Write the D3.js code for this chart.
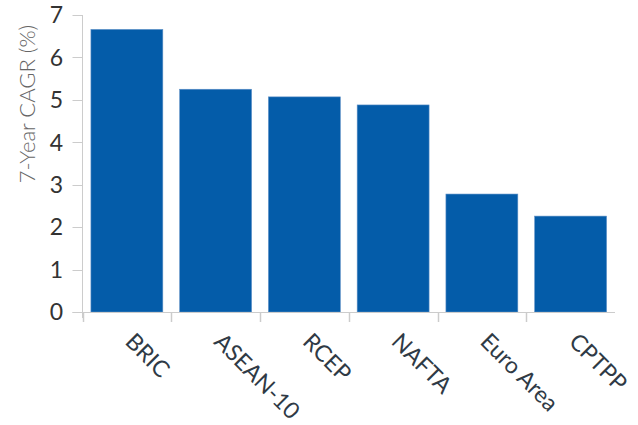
<!DOCTYPE html>
<html>
<head>
<meta charset="utf-8">
<script src="https://cdn.jsdelivr.net/npm/d3@7"></script>
<style>
  html, body { margin: 0; padding: 0; background: #fff; }
  svg { display: block; font-family: Lato, "Open Sans", sans-serif; }
</style>
</head>
<body>
<svg id="chart" width="638" height="425"></svg>
<script>
// Trade blocs and their 7-year compound annual growth rate (%)
const categories = ["BRIC", "ASEAN-10", "RCEP", "NAFTA", "Euro Area", "CPTPP"];
const cagrValues = [6.66, 5.25, 5.07, 4.88, 2.78, 2.26];
const yTicks = [0, 1, 2, 3, 4, 5, 6, 7];
const yTitle = "7-Year CAGR (%)";

const svg = d3.select("#chart");
const margin = { left: 82.5, right: 23, top: 15, bottom: 113 };
const width = 638, height = 425;

const x = d3.scaleBand()
  .domain(categories)
  .range([margin.left, width - margin.right])
  .paddingInner(0.19)
  .paddingOuter(0.095);

const y = d3.scaleLinear()
  .domain([0, 7])
  .range([height - margin.bottom, margin.top]);

const bandStep = x.step();
const x0 = margin.left;
const xEnd = x0 + bandStep * categories.length;

// Bars
svg.append("g")
  .selectAll("rect")
  .data(categories)
  .join("rect")
  .attr("x", d => x(d))
  .attr("y", (d, i) => y(cagrValues[i]))
  .attr("width", x.bandwidth())
  .attr("height", (d, i) => y(0) - y(cagrValues[i]))
  .attr("fill", "#045ca9")
  .attr("stroke", "#5b8fc6")
  .attr("stroke-width", 0.6);

// Y axis: vertical line, tick marks and labels
const yAxis = svg.append("g");
yAxis.append("line")
  .attr("x1", x0).attr("x2", x0)
  .attr("y1", y(7)).attr("y2", y(0) + 6)
  .attr("stroke", "#ccc").attr("stroke-width", 1);
yAxis.selectAll("line.tick")
  .data(yTicks)
  .join("line")
  .attr("class", "tick")
  .attr("x1", x0 - 10).attr("x2", x0)
  .attr("y1", d => Math.round(y(d)) + 0.5)
  .attr("y2", d => Math.round(y(d)) + 0.5)
  .attr("stroke", "#ccc").attr("stroke-width", 1);
yAxis.selectAll("text")
  .data(yTicks)
  .join("text")
  .attr("x", 63)
  .attr("y", d => y(d))
  .attr("dy", "0.36em")
  .attr("text-anchor", "end")
  .attr("font-size", 23)
  .attr("fill", "#333")
  .text(d => d);

// Y axis title
svg.append("text")
  .attr("transform", `translate(35,${104}) rotate(-90)`)
  .attr("text-anchor", "middle")
  .attr("font-size", 22)
  .attr("font-weight", 300)
  .attr("fill", "#666")
  .text(yTitle);

// X axis baseline and category boundary ticks
const xAxis = svg.append("g");
xAxis.append("line")
  .attr("x1", x0 - 10).attr("x2", xEnd)
  .attr("y1", Math.round(y(0)) + 0.5).attr("y2", Math.round(y(0)) + 0.5)
  .attr("stroke", "#ccc").attr("stroke-width", 1);
xAxis.selectAll("line.tick")
  .data(categories)
  .join("line")
  .attr("class", "tick")
  .attr("x1", (d, i) => Math.round(x0 + i * bandStep) + 0.5)
  .attr("x2", (d, i) => Math.round(x0 + i * bandStep) + 0.5)
  .attr("y1", y(0))
  .attr("y2", y(0) + 10)
  .attr("stroke", "#ccc").attr("stroke-width", 1.5);

// Rotated category labels
xAxis.selectAll("text")
  .data(categories)
  .join("text")
  .attr("transform", d => `translate(${x(d) + x.bandwidth() / 2 - 3},${y(0) + 31}) rotate(45)`)
  .attr("text-anchor", "start")
  .attr("font-size", 23)
  .attr("fill", "#2f3a45")
  .text(d => d);
</script>
</body>
</html>
